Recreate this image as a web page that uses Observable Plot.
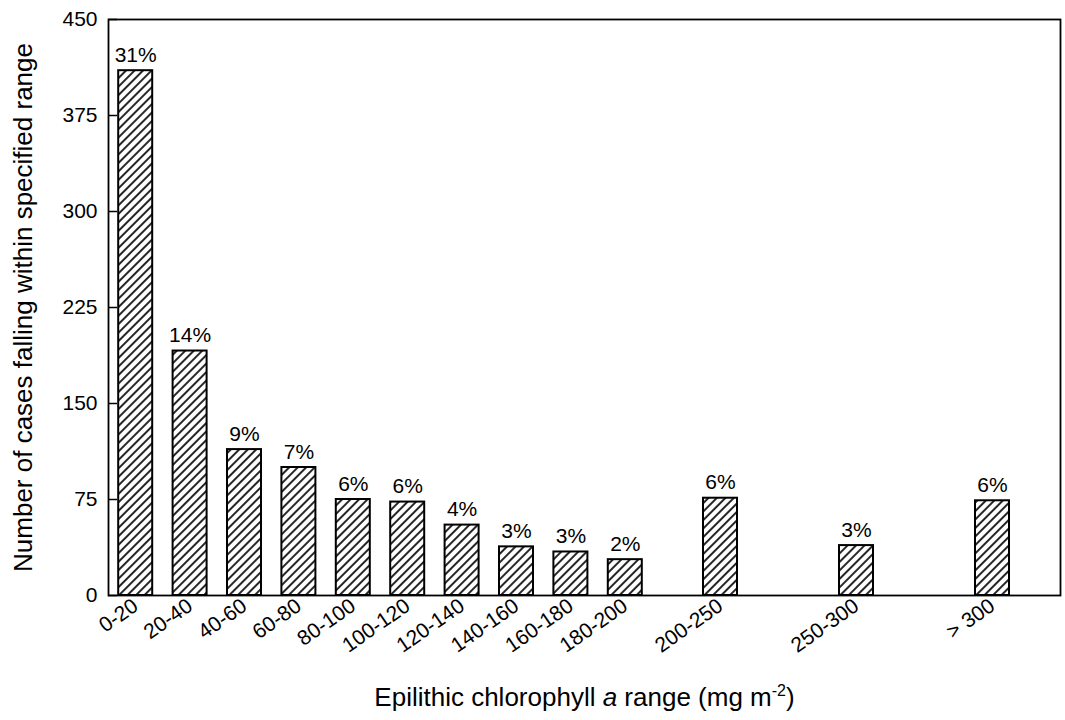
<!DOCTYPE html>
<html><head><meta charset="utf-8">
<script src="https://cdn.jsdelivr.net/npm/d3@7"></script>
<script src="https://cdn.jsdelivr.net/npm/@observablehq/plot@0.6"></script>
<style>
body{margin:0;background:#fff;}
svg{font-family:"Liberation Sans",Arial,sans-serif;}
svg g[aria-label="y-axis tick label"], svg g[aria-label="x-axis tick label"]{font-size:21px;}
svg g[aria-label="y-axis label"], svg g[aria-label="x-axis label"]{font-size:26px;}
svg g[aria-label="text"]{font-size:21px;}
</style>
</head><body><div id="chart"></div>
<script>
const categories = ["0-20","20-40","40-60","60-80","80-100","100-120","120-140","140-160","160-180","180-200","200-250","250-300","> 300"];
const mids = [10,30,50,70,90,110,130,150,170,190,225,275,325];
const counts = [410,191,114,100,75,73,55,38,34,28,76,39,74];
const percents = ["31%","14%","9%","7%","6%","6%","4%","3%","3%","2%","6%","3%","6%"];
const yTicks = [0,75,150,225,300,375,450];
const yTitle = "Number of cases falling within specified range";

const data = categories.map((c,i)=>({cat:c, mid:mids[i], count:counts[i], pct:percents[i]}));
const halfWidth = 6.25;

const chart = Plot.plot({
  width:1065, height:720, marginLeft:108, marginRight:5, marginTop:19, marginBottom:125,
  style:{fontFamily:'"Liberation Sans",Arial,sans-serif', color:"#000", background:"#fff"},
  x:{domain:[0,350]},
  y:{domain:[0,450]},
  marks:[
    Plot.rectY(data,{x1:d=>d.mid-halfWidth, x2:d=>d.mid+halfWidth, y1:0, y2:"count", fill:"url(#hatch)", stroke:"#000", strokeWidth:2}),
    Plot.text(data,{x:"mid", y:"count", text:"pct", lineAnchor:"bottom", dy:-9}),
    Plot.frame({stroke:"#000", strokeWidth:1.8}),
    Plot.axisY({ticks:yTicks, tickSize:9, dx:9, strokeWidth:1.5, tickFormat:()=>"", label:null}),
    Plot.axisY({ticks:yTicks, tickSize:0, tickPadding:11, label:yTitle, labelAnchor:"center", labelArrow:"none", labelOffset:95}),
    Plot.axisX({ticks:mids, tickFormat:d=>categories[mids.indexOf(d)], tickSize:0, tickRotate:-35, tickPadding:8, label:"Epilithic chlorophyll a range (mg m-2)", labelAnchor:"center", labelArrow:"none", labelOffset:110})
  ]
});

const svg = d3.select(chart);
const defs = svg.insert("defs", ":first-child");
const p = defs.append("pattern").attr("id","hatch").attr("patternUnits","userSpaceOnUse")
  .attr("width",6).attr("height",6).attr("patternTransform","rotate(45)");
p.append("rect").attr("width",6).attr("height",6).attr("fill","#fff");
p.append("line").attr("x1",1).attr("y1",0).attr("x2",1).attr("y2",6).attr("stroke","#000").attr("stroke-width",1.7);

svg.selectAll('g[aria-label="x-axis label"] text').each(function(){
  const t = d3.select(this);
  t.text(null);
  t.append("tspan").text("Epilithic chlorophyll ");
  t.append("tspan").attr("font-style","italic").text("a");
  t.append("tspan").text(" range (mg m");
  t.append("tspan").attr("dy","-10").attr("font-size","16").text("-2");
  t.append("tspan").attr("dy","10").text(")");
});

document.getElementById("chart").appendChild(chart);
</script></body></html>
